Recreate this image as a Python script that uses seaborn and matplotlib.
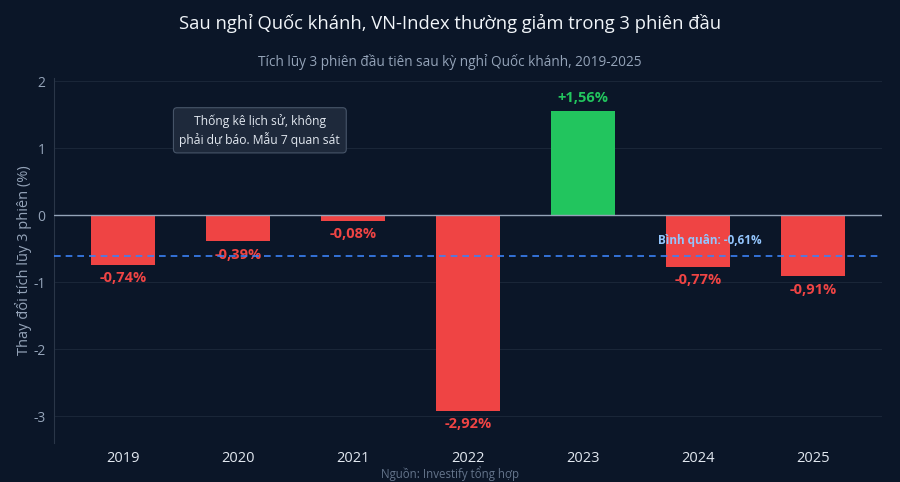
import matplotlib
matplotlib.use("Agg")
import matplotlib.pyplot as plt
import seaborn as sns
import pandas as pd

years = ["2019", "2020", "2021", "2022", "2023", "2024", "2025"]
values = [-0.74, -0.39, -0.08, -2.92, 1.56, -0.77, -0.91]
mean_value = -0.61
y_ticks = [-3, -2, -1, 0, 1, 2]

BG = "#0b1628"
RED = "#ef4444"
GREEN = "#22c55e"

sns.set_theme(style="dark")
plt.rcParams['font.family'] = ['Open Sans', 'DejaVu Sans']

df = pd.DataFrame({"year": years, "value": values})
colors = [GREEN if v > 0 else RED for v in values]

fig = plt.figure(figsize=(9, 4.82), dpi=100, facecolor=BG)
ax = fig.add_axes([0.06, 0.081, 0.92, 0.757])
ax.set_facecolor(BG)

sns.barplot(data=df, x="year", y="value", hue="year", palette=colors,
            legend=False, width=0.55, ax=ax, saturation=1, linewidth=0)

ax.set_xlim(-0.6, 6.6)
ax.set_ylim(-3.4, 2.05)
ax.set_yticks(y_ticks)
ax.set_yticklabels([str(t) for t in y_ticks])
ax.grid(axis="y", color="#1a2638", linewidth=0.8)
ax.grid(axis="x", visible=False)
ax.set_axisbelow(True)

for s in ["top", "right", "bottom"]:
    ax.spines[s].set_visible(False)
ax.spines["left"].set_color("#2a3648")
ax.spines["left"].set_linewidth(0.8)

ax.tick_params(axis="y", colors="#94a3b8", labelsize=10, length=3, width=0.6, pad=3)
ax.tick_params(axis="y", color="#3a4658")
ax.tick_params(axis="x", colors="#e2e8f0", labelsize=10.5, length=3, width=0.6, pad=3)
ax.tick_params(axis="x", color="#3a4658")
for lab in ax.get_yticklabels():
    lab.set_color("#94a3b8")
for lab in ax.get_xticklabels():
    lab.set_color("#e2e8f0")

ax.axhline(0, color="#94a3b8", linewidth=1.0, zorder=3)
ax.axhline(mean_value, color="#3b82f6", linewidth=1.2, linestyle=(0, (4, 3)), zorder=4)

for i, v in enumerate(values):
    txt = ("+" if v > 0 else "") + f"{v:.2f}".replace(".", ",") + "%"
    if v > 0:
        ax.annotate(txt, (i, v), xytext=(0, 4), textcoords="offset points",
                    ha="center", va="bottom", color=GREEN, fontsize=10.5, fontweight="bold")
    else:
        ax.annotate(txt, (i, v), xytext=(0, -4.5), textcoords="offset points",
                    ha="center", va="top", color=RED, fontsize=10.5, fontweight="bold")

ax.text(5.1, mean_value + 0.24, "Bình quân: " + f"{mean_value:.2f}".replace(".", ",") + "%",
        ha="center", va="center", color="#93c5fd", fontsize=8.5, fontweight="bold", zorder=5)

ax.text(1.19, 1.27, "Thống kê lịch sử, không\nphải dự báo. Mẫu 7 quan sát",
        ha="center", va="center", color="#e2e8f0", fontsize=8.7, linespacing=1.35,
        bbox=dict(boxstyle="round,pad=0.5,rounding_size=0.3", facecolor="#1e293b",
                  edgecolor="#475569", linewidth=0.8))

ax.set_xlabel("")
ax.set_ylabel("Thay đổi tích lũy 3 phiên (%)", color="#94a3b8", fontsize=10.5, labelpad=1)

fig.text(0.5, 1 - 23 / 482, "Sau nghỉ Quốc khánh, VN-Index thường giảm trong 3 phiên đầu",
         ha="center", va="center", color="#f1f5f9", fontsize=13.2)
fig.text(0.5, 1 - 61.5 / 482, "Tích lũy 3 phiên đầu tiên sau kỳ nghỉ Quốc khánh, 2019-2025",
         ha="center", va="center", color="#94a3b8", fontsize=9.8)
fig.text(0.5, 1 - 474 / 482, "Nguồn: Investify tổng hợp",
         ha="center", va="center", color="#64748b", fontsize=8.3)

fig.savefig("out.png", dpi=100, facecolor=BG)
